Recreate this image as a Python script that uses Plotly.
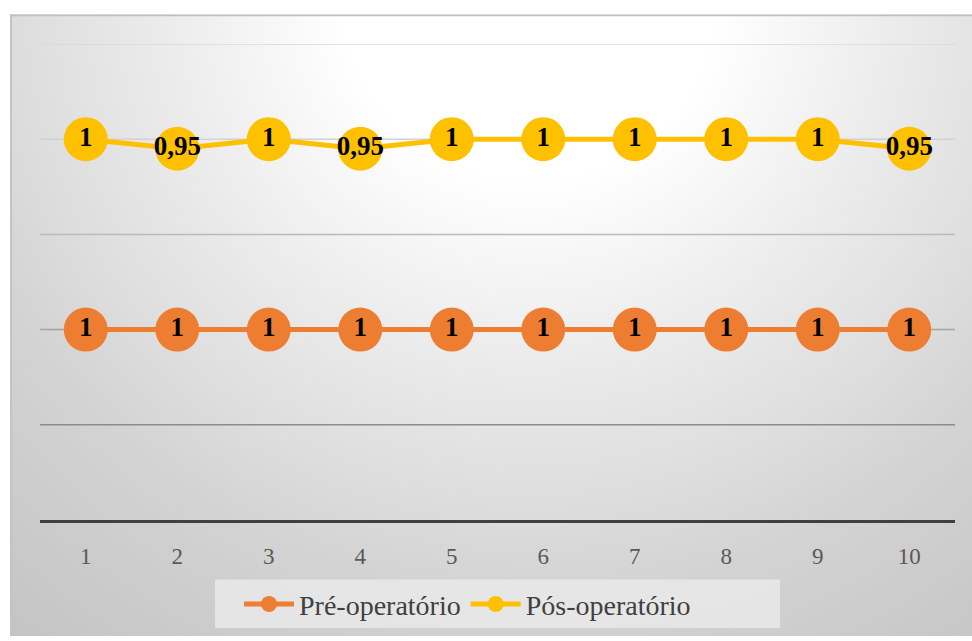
import base64
import plotly.graph_objects as go

# Measurement points and the two series (values are stacked: Pós sits on Pré)
categories = [1, 2, 3, 4, 5, 6, 7, 8, 9, 10]
pre_values = [1, 1, 1, 1, 1, 1, 1, 1, 1, 1]
pos_values = [1, 0.95, 1, 0.95, 1, 1, 1, 1, 1, 0.95]
series_names = ["Pré-operatório", "Pós-operatório"]
grid_values = [0.5, 1.0, 1.5, 2.0, 2.5]
grid_colors = ["#8c8c8c", "#a3a3a3", "#bababa", "#d2d2d2", "#d9d9d9"]

ORANGE = "#ED7D31"
GOLD = "#FFC000"

W, H = 972, 641
L, R, T, B = 40, 17, 44, 117
plot_w = W - L - R
plot_h = H - T - B

SERIF = "Liberation Serif, Times New Roman, serif"


def fmt(v):
    return f"{v:g}".replace(".", ",")


# Chart-area background: soft radial grey gradient with a thin border
bg_w, bg_h = 962, 627
svg = f"""<svg xmlns='http://www.w3.org/2000/svg' width='{bg_w}' height='{bg_h}' viewBox='0 0 {bg_w} {bg_h}' preserveAspectRatio='none'>
<defs><radialGradient id='g' gradientUnits='userSpaceOnUse' cx='520' cy='-20' r='840'>
<stop offset='0' stop-color='#ffffff'/>
<stop offset='0.22' stop-color='#ffffff'/>
<stop offset='0.44' stop-color='#ebebeb'/>
<stop offset='0.61' stop-color='#dddddd'/>
<stop offset='0.72' stop-color='#d3d3d3'/>
<stop offset='1' stop-color='#c3c3c3'/>
</radialGradient></defs>
<rect x='0' y='0' width='{bg_w}' height='{bg_h}' fill='url(#g)'/>
<line x1='0' y1='1' x2='{bg_w}' y2='1' stroke='#c0c0c0' stroke-width='2'/>
<line x1='1' y1='0' x2='1' y2='{bg_h}' stroke='#c4c4c4' stroke-width='2'/>
</svg>"""
bg_uri = "data:image/svg+xml;base64," + base64.b64encode(svg.encode()).decode()

fig = go.Figure()

for name, vals, color in [
    (series_names[0], pre_values, ORANGE),
    (series_names[1], pos_values, GOLD),
]:
    fig.add_trace(go.Scatter(
        x=categories,
        y=vals,
        name=name,
        stackgroup="stack",
        fill="none",
        mode="lines+markers+text",
        line=dict(color=color, width=5),
        marker=dict(color=color, size=44, line=dict(width=0)),
        text=[fmt(v) for v in vals],
        textposition="middle center",
        textfont=dict(family=SERIF, size=27, color="black", weight="bold"),
        hoverinfo="skip",
    ))

shapes = []
for v, c in zip(grid_values, grid_colors):
    shapes.append(dict(type="line", xref="paper", yref="y", x0=0, x1=1, y0=v, y1=v,
                       line=dict(color=c, width=1.5), layer="below"))

# Legend panel
shapes.append(dict(type="rect", xref="paper", yref="paper",
                   x0=(215 - L) / plot_w, x1=(780 - L) / plot_w,
                   y0=(T + plot_h - 633) / plot_h, y1=(T + plot_h - 584) / plot_h,
                   fillcolor="rgba(236,236,236,0.75)", line=dict(width=0), layer="below"))

fig.update_layout(
    width=W, height=H,
    margin=dict(l=L, r=R, t=T, b=B),
    paper_bgcolor="white",
    plot_bgcolor="rgba(0,0,0,0)",
    images=[dict(source=bg_uri, xref="paper", yref="paper",
                 x=(10 - L) / plot_w, y=(T + plot_h - 14) / plot_h,
                 sizex=bg_w / plot_w, sizey=bg_h / plot_h,
                 xanchor="left", yanchor="top", sizing="stretch", layer="below")],
    shapes=shapes,
    xaxis=dict(
        range=[0.5, 10.5], tickvals=categories, ticktext=[str(c) for c in categories],
        showgrid=False, zeroline=False, showline=True, linecolor="#404040", linewidth=3,
        ticks="outside", ticklen=13, tickcolor="rgba(0,0,0,0)",
        tickfont=dict(family=SERIF, size=23, color="#595959"),
    ),
    yaxis=dict(range=[0, 2.5], showgrid=False, zeroline=False, showticklabels=False),
    showlegend=True,
    legend=dict(
        orientation="h", x=(239 - L) / plot_w, xanchor="left",
        y=(T + plot_h - 609) / plot_h, yanchor="middle",
        bgcolor="rgba(0,0,0,0)", itemwidth=50,
        font=dict(family=SERIF, size=28, color="#404040"),
    ),
)

fig.write_html("out.html")
